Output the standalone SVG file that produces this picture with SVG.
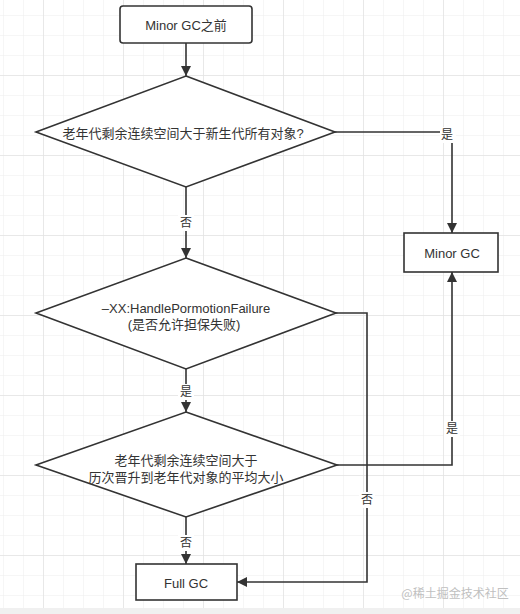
<svg xmlns="http://www.w3.org/2000/svg" width="520" height="614" viewBox="0 0 520 614">
<defs>
<pattern id="minor" x="3" y="15" width="20" height="20" patternUnits="userSpaceOnUse">
<path d="M0 0 H20 M0 0 V20" fill="none" stroke="#ededed" stroke-width="1"/>
</pattern>
<pattern id="major" x="43" y="75" width="80" height="80" patternUnits="userSpaceOnUse">
<path d="M0 0 H80 M0 0 V80" fill="none" stroke="#e4e4e4" stroke-width="1.5"/>
</pattern>
<marker id="arr" viewBox="0 0 10 10" refX="10" refY="5" markerWidth="10" markerHeight="10" markerUnits="userSpaceOnUse" orient="auto">
<path d="M0 0 L10 5 L0 10 Z" fill="#333"/>
</marker>
<style>
.shape{fill:#fff;stroke:#333;stroke-width:1.6}
.edge{fill:none;stroke:#333;stroke-width:1.6}
.t{font-family:"Liberation Sans","Noto Sans CJK SC",sans-serif;font-size:13px;fill:#333;text-anchor:middle;dominant-baseline:central}
.lbl{font-family:"Liberation Sans","Noto Sans CJK SC",sans-serif;font-size:12px;fill:#333;text-anchor:middle;dominant-baseline:central}
.lb{fill:#fff}
</style>
</defs>
<rect width="520" height="614" fill="#fff"/>
<rect width="520" height="608" fill="url(#minor)"/>
<rect width="520" height="608" fill="url(#major)"/>
<rect y="608" width="520" height="6" fill="#f0f0f0"/>

<g id="connectors">
<path class="edge" d="M186 43 V76" marker-end="url(#arr)"/>
<path class="edge" d="M335 132 H452 V233" marker-end="url(#arr)"/>
<path class="edge" d="M186 187 V258" marker-end="url(#arr)"/>
<path class="edge" d="M336 313 H367 V582 H237" marker-end="url(#arr)"/>
<path class="edge" d="M186 369 V412" marker-end="url(#arr)"/>
<path class="edge" d="M337 465 H452 V272" marker-end="url(#arr)"/>
<path class="edge" d="M186 517 V564" marker-end="url(#arr)"/>
<rect class="lb" x="440" y="127" width="16" height="16"/>
<text class="lbl" x="447" y="135">是</text>
<rect class="lb" x="178" y="215" width="16" height="16"/>
<text class="lbl" x="186" y="223">否</text>
<rect class="lb" x="178" y="384" width="16" height="16"/>
<text class="lbl" x="186" y="392">是</text>
<rect class="lb" x="359" y="492" width="16" height="16"/>
<text class="lbl" x="367" y="500">否</text>
<rect class="lb" x="444" y="421" width="16" height="16"/>
<text class="lbl" x="452" y="429">是</text>
<rect class="lb" x="178" y="535" width="16" height="16"/>
<text class="lbl" x="186" y="543">否</text>
</g>

<g id="start">
<rect class="shape" x="120" y="6" width="132" height="37" rx="3"/>
<text class="t" x="186" y="25">Minor GC之前</text>
</g>
<g id="decision1">
<path class="shape" d="M186 76 L335 132 L186 187 L36 132 Z"/>
<text class="t" x="183" y="133">老年代剩余连续空间大于新生代所有对象?</text>
</g>
<g id="minorgc">
<rect class="shape" x="404" y="233" width="94" height="39"/>
<text class="t" x="452" y="253">Minor GC</text>
</g>
<g id="decision2">
<path class="shape" d="M186 258 L336 313 L186 369 L36 313 Z"/>
<text class="t" x="186" y="308">–XX:HandlePormotionFailure</text>
<text class="t" x="184" y="324">(是否允许担保失败)</text>
</g>
<g id="decision3">
<path class="shape" d="M186 412 L337 465 L186 517 L36 465 Z"/>
<text class="t" x="186" y="460">老年代剩余连续空间大于</text>
<text class="t" x="186" y="477">历次晋升到老年代对象的平均大小</text>
</g>
<g id="fullgc">
<rect class="shape" x="136" y="564" width="101" height="36"/>
<text class="t" x="186" y="583">Full GC</text>
</g>
<text x="455" y="592" font-family="'Noto Sans CJK SC',sans-serif" font-size="12" fill="#c0c0c0" text-anchor="middle" dominant-baseline="central">@稀土掘金技术社区</text>
</svg>
